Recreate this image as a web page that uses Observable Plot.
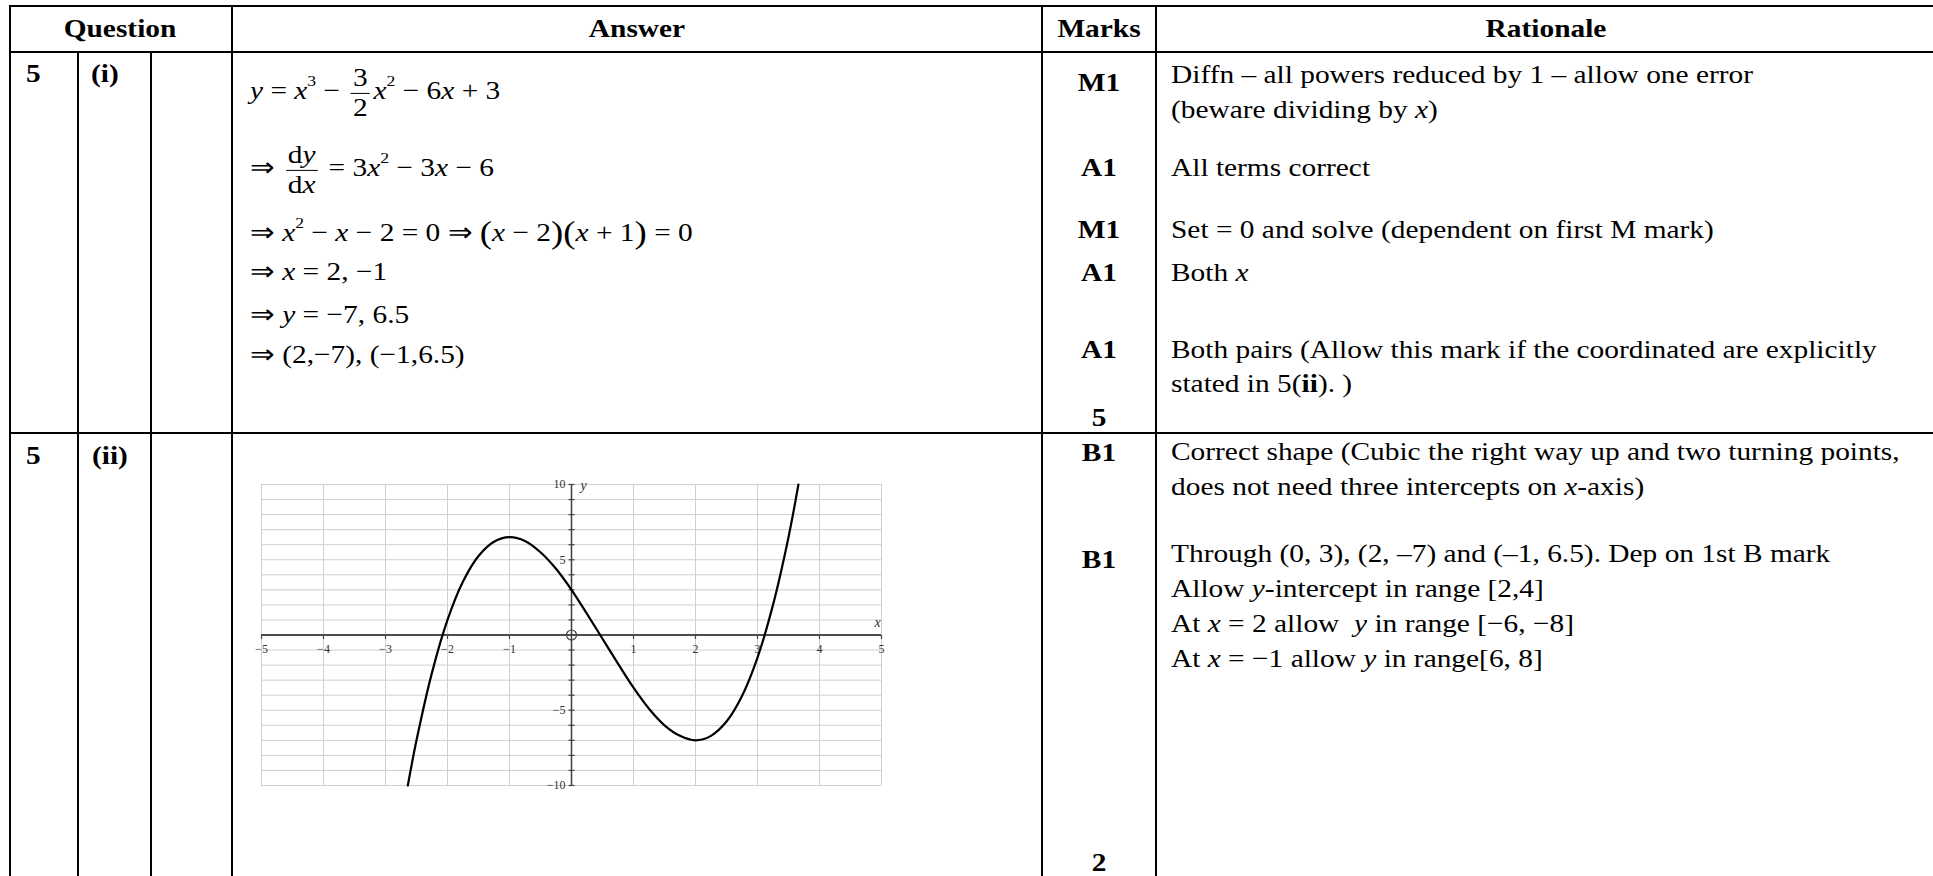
<!DOCTYPE html>
<html><head><meta charset="utf-8">
<script src="https://cdn.jsdelivr.net/npm/d3@7"></script>
<script src="https://cdn.jsdelivr.net/npm/@observablehq/plot@0.6"></script>
<style>
html,body{margin:0;padding:0;background:#fff;overflow:hidden}
#page{position:relative;width:1933px;height:876px;font-family:"Liberation Serif","Times New Roman",serif;color:#000;overflow:hidden}
.hl{position:absolute;height:2px;background:#000}
.vl{position:absolute;width:2px;background:#000}
.t{position:absolute;font-size:26px;line-height:1;white-space:nowrap}
.l{transform:translate(0,-50%) scaleX(1.13);transform-origin:left center}
.c{transform:translate(-50%,-50%) scaleX(1.13);transform-origin:center center}
.b{font-weight:bold}
.frac{display:inline-block;vertical-align:middle;text-align:center;margin:0 3px}
.frac>span{display:block;line-height:1.1;padding:0 2px}
.frac>span:first-child{border-bottom:1.5px solid #000}
sup{font-size:0.6em;position:relative;top:-0.85em;vertical-align:baseline;line-height:0}
.bp{font-size:1.25em;position:relative;top:0.06em}
#chart{position:absolute;left:231px;top:464px}
</style></head>
<body><div id="page"></div>
<script>
// ---- chart data ----
const curveX = [-2.64, -2.5, -2.25, -2, -1.75, -1.5, -1.25, -1, -0.75, -0.5, -0.25, 0, 0.25, 0.5, 0.75, 1, 1.25, 1.5, 1.75, 2, 2.25, 2.5, 2.75, 3, 3.25, 3.5, 3.66];
const curveY = [-10, -7.0, -2.5, 1.0, 3.55, 5.25, 6.2, 6.5, 6.25, 5.5, 4.4, 3.0, 1.4, -0.25, -1.9, -3.5, -4.9, -6.0, -6.7, -7.0, -6.7, -5.75, -4.05, -1.5, 2.0, 6.5, 10];
const xDomain = [-5, 5];
const yDomain = [-10, 10];
const gridXValues = [-5, -4, -3, -2, -1, 0, 1, 2, 3, 4, 5];
const gridYValues = [-10, -9, -8, -7, -6, -5, -4, -3, -2, -1, 0, 1, 2, 3, 4, 5, 6, 7, 8, 9, 10];
const xTickValues = [-5, -4, -3, -2, -1, 1, 2, 3, 4, 5];
const xTickLabels = ["−5", "−4", "−3", "−2", "−1", "1", "2", "3", "4", "5"];
const yTickValues = [-10, -9, -8, -7, -6, -5, -4, -3, -2, -1, 1, 2, 3, 4, 5, 6, 7, 8, 9, 10];
const yLabelValues = [10, 5, -5, -10];
const yLabelTexts = ["10", "5", "−5", "−10"];
const axisNames = ["x", "y"];

// ---- table text ----
const headers = ["Question", "Answer", "Marks", "Rationale"];
const marks1 = ["M1", "A1", "M1", "A1", "A1", "5"];
const marks2 = ["B1", "B1", "2"];
const answers1 = [
  `<i>y</i> = <i>x</i><sup>3</sup> − <span class="frac"><span>3</span><span>2</span></span><i>x</i><sup>2</sup> − 6<i>x</i> + 3`,
  `⇒ <span class="frac"><span>d<i>y</i></span><span>d<i>x</i></span></span> = 3<i>x</i><sup>2</sup> − 3<i>x</i> − 6`,
  `⇒ <i>x</i><sup>2</sup> − <i>x</i> − 2 = 0 ⇒ <span class="bp">(</span><i>x</i> − 2<span class="bp">)(</span><i>x</i> + 1<span class="bp">)</span> = 0`,
  `⇒ <i>x</i> = 2, −1`,
  `⇒ <i>y</i> = −7, 6.5`,
  `⇒ (2,−7),  (−1,6.5)`
];
const rationale1 = [
  `Diffn – all powers reduced by 1 – allow one error`,
  `(beware dividing by <i>x</i>)`,
  `All terms correct`,
  `Set = 0 and solve (dependent on first M mark)`,
  `Both <i>x</i>`,
  `Both pairs (Allow this mark if the coordinated are explicitly`,
  `stated in 5(<b>ii</b>). )`
];
const rationale2 = [
  `Correct shape (Cubic the right way up and two turning points,`,
  `does not need three intercepts on <i>x</i>-axis)`,
  `Through (0, 3), (2, –7) and (–1, 6.5). Dep on 1st B mark`,
  `Allow <i>y</i>-intercept in range [2,4]`,
  `At <i>x</i> = 2 allow &nbsp;<i>y</i> in range [−6, −8]`,
  `At <i>x</i> = −1 allow <i>y</i> in range[6, 8]`
];

const page = document.getElementById("page");
function hline(y, x1, x2) {
  const d = document.createElement("div"); d.className = "hl";
  d.style.top = (y - 1) + "px"; d.style.left = (x1 - 1) + "px"; d.style.width = (x2 - x1 + 2) + "px";
  page.appendChild(d);
}
function vline(x, y1, y2) {
  const d = document.createElement("div"); d.className = "vl";
  d.style.left = (x - 1) + "px"; d.style.top = (y1 - 1) + "px"; d.style.height = (y2 - y1 + 2) + "px";
  page.appendChild(d);
}
function txt(html, x, y, align, bold) {
  const d = document.createElement("div");
  d.className = "t " + (align === "c" ? "c" : "l") + (bold ? " b" : "");
  d.style.left = x + "px"; d.style.top = y + "px";
  d.innerHTML = html;
  page.appendChild(d);
}

// grid lines of the table
const W = 1940;
hline(6, 10, W); hline(52, 10, W); hline(433, 10, W);
vline(10, 6, 880); vline(232, 6, 880); vline(1042, 6, 880); vline(1156, 6, 880);
vline(78, 52, 880); vline(151, 52, 880);

// header
txt(headers[0], 120, 29, "c", true);
txt(headers[1], 637, 29, "c", true);
txt(headers[2], 1099, 29, "c", true);
txt(headers[3], 1546, 29, "c", true);

// row 5(i)
txt("5", 26, 74, "l", true);
txt("(i)", 91, 74, "l", true);
const ans1Y = [93, 170, 230, 272, 315, 355];
answers1.forEach((h, i) => txt(h, 250, ans1Y[i], "l", false));
const m1Y = [83, 168, 230, 273, 350, 418];
marks1.forEach((m, i) => txt(m, 1099, m1Y[i], "c", true));
const r1Y = [75, 110, 168, 230, 273, 350, 384];
rationale1.forEach((h, i) => txt(h, 1171, r1Y[i], "l", false));

// row 5(ii)
txt("5", 26, 456, "l", true);
txt("(ii)", 92, 456, "l", true);
const m2Y = [453, 560, 863];
marks2.forEach((m, i) => txt(m, 1099, m2Y[i], "c", true));
const r2Y = [452, 487, 554, 589, 624, 659];
rationale2.forEach((h, i) => txt(h, 1171, r2Y[i], "l", false));

// ---- the chart ----
const curve = curveX.map((x, i) => ({x, y: curveY[i]}));
const tickDown = {draw(ctx) { ctx.moveTo(0, 0); ctx.lineTo(0, 4); }};
const tickSide = {draw(ctx) { ctx.moveTo(-3, 0); ctx.lineTo(3, 0); }};
const labelFont = "Liberation Serif, Times New Roman, serif";

const chart = Plot.plot({
  width: 680,
  height: 340,
  marginLeft: 30,
  marginRight: 30,
  marginTop: 20,
  marginBottom: 19,
  x: {domain: xDomain, axis: null},
  y: {domain: yDomain, axis: null},
  style: {background: "transparent", overflow: "visible"},
  marks: [
    Plot.ruleX(gridXValues, {x: d => d, stroke: "#cfcfcf", strokeWidth: 1}),
    Plot.ruleY(gridYValues, {y: d => d, stroke: "#cfcfcf", strokeWidth: 1}),
    Plot.ruleY([0], {y: d => d, stroke: "#4d4d4d", strokeWidth: 2}),
    Plot.ruleX([0], {x: d => d, stroke: "#3d3d3d", strokeWidth: 1.5}),
    Plot.dot(xTickValues, {x: d => d, y: 0, symbol: tickDown, r: 3, stroke: "#444", fill: "none", strokeWidth: 1.2}),
    Plot.dot(yTickValues, {x: 0, y: d => d, symbol: tickSide, r: 3, stroke: "#444", fill: "none", strokeWidth: 1.2}),
    Plot.text(xTickValues, {x: d => d, y: 0, text: (d, i) => xTickLabels[i], dy: 14, fontSize: 12, fontFamily: labelFont, fill: "#333"}),
    Plot.text(yLabelValues, {x: 0, y: d => d, text: (d, i) => yLabelTexts[i], textAnchor: "end", dx: -6, fontSize: 12, fontFamily: labelFont, fill: "#333"}),
    Plot.text([axisNames[0]], {x: xDomain[1], y: 0, text: d => d, dx: -4, dy: -12, fontSize: 14, fontStyle: "italic", fontFamily: labelFont, fill: "#333"}),
    Plot.text([axisNames[1]], {x: 0, y: yDomain[1], text: d => d, dx: 9, dy: 1, textAnchor: "start", fontSize: 14, fontStyle: "italic", fontFamily: labelFont, fill: "#333"}),
    Plot.dot([0], {x: d => d, y: 0, r: 5, stroke: "#444", fill: "none", strokeWidth: 1.2}),
    Plot.line(curve, {x: "x", y: "y", curve: "catmull-rom", stroke: "#000", strokeWidth: 2.2})
  ]
});
chart.id = "chart";
page.appendChild(chart);
</script>
</body></html>
